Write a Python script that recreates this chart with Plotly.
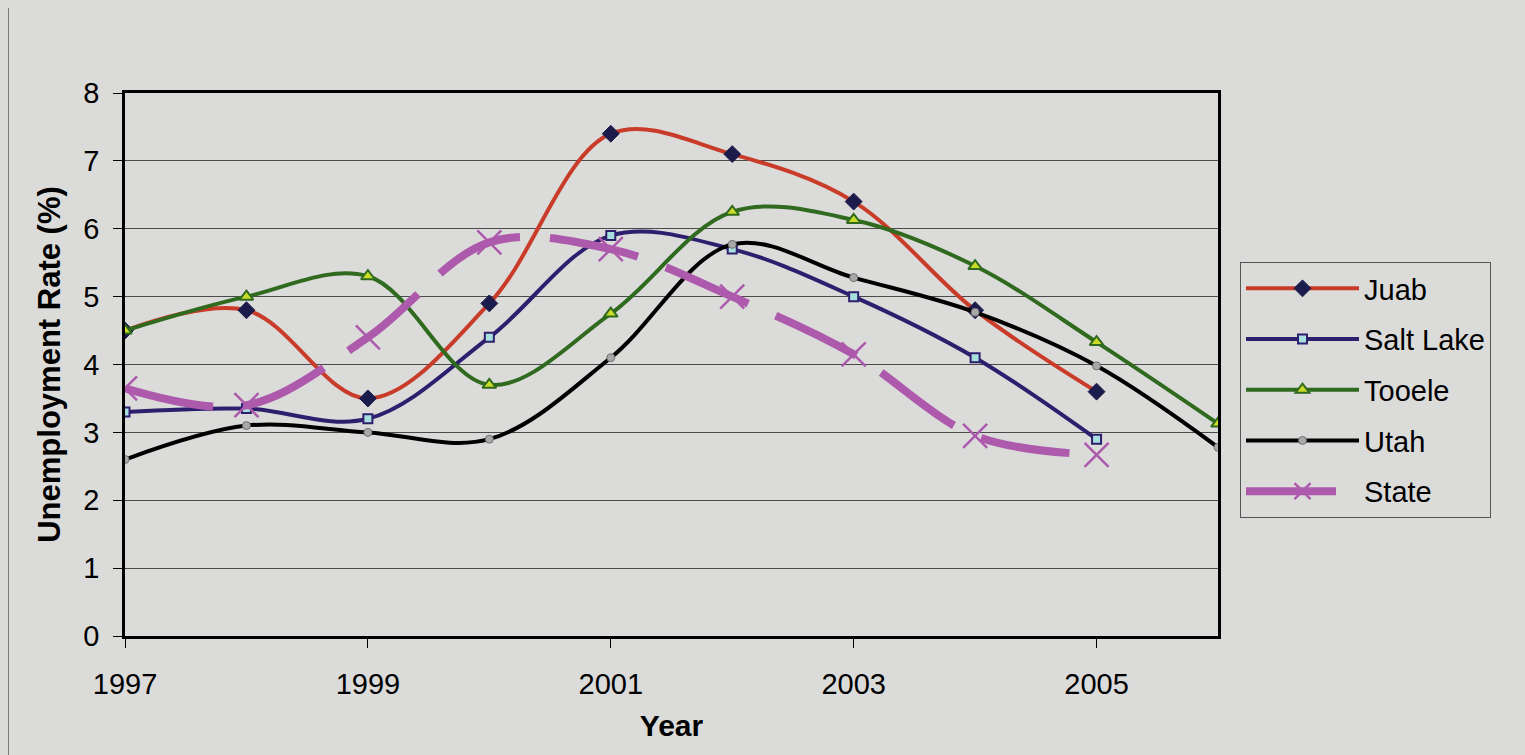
import plotly.graph_objects as go

years = [1997, 1998, 1999, 2000, 2001, 2002, 2003, 2004, 2005, 2006]
juab = [4.5, 4.8, 3.5, 4.9, 7.4, 7.1, 6.4, 4.8, 3.6]
salt_lake = [3.3, 3.35, 3.2, 4.4, 5.9, 5.7, 5.0, 4.1, 2.9]
tooele = [4.5, 5.0, 5.3, 3.7, 4.75, 6.25, 6.13, 5.45, 4.33, 3.13]
utah = [2.6, 3.1, 3.0, 2.9, 4.1, 5.77, 5.28, 4.77, 3.98, 2.78]
state = [3.65, 3.4, 4.4, 5.8, 5.7, 5.0, 4.15, 2.95, 2.67]
x_ticks = [1997, 1999, 2001, 2003, 2005]

BG = "#dbdbd9"
FONT = "Arial, Liberation Sans, sans-serif"

# page is offset by the browser's 8px body margin
OFF = 8
PL, PT, PW, PH = 125 - OFF, 93 - OFF, 1093, 543

fig = go.Figure()

series = [
    ("Juab", juab, dict(color="#c93c2a", width=4, dash="solid"),
     dict(symbol="diamond", size=13, color="#1c1c4c", line=dict(color="#1c1c4c", width=1))),
    ("Salt Lake", salt_lake, dict(color="#2e1f6e", width=4, dash="solid"),
     dict(symbol="square", size=9, color="#a8e0e0", line=dict(color="#2e1f6e", width=2))),
    ("Tooele", tooele, dict(color="#2f6a1f", width=4, dash="solid"),
     dict(symbol="triangle-up", size=12, color="#c8dc28", line=dict(color="#2f6a1f", width=2))),
    ("Utah", utah, dict(color="#000000", width=4, dash="solid"),
     dict(symbol="circle", size=8, color="#a8a8a8", line=dict(color="#707070", width=1))),
    ("State", state, dict(color="#ad5aad", width=8, dash="90px,30px"),
     dict(symbol="x-thin-open", size=24, color="#ad5aad", line=dict(color="#ad5aad", width=2.5))),
]

for i, (name, vals, line, marker) in enumerate(series):
    fig.add_trace(go.Scatter(
        x=years[:len(vals)], y=vals, name=name, mode="lines+markers",
        line=dict(shape="spline", smoothing=1.0, **line),
        marker=marker, legendgroup=f"g{i}",
    ))

fig.update_layout(
    width=1525, height=755,
    margin=dict(l=PL, r=1525 - PL - PW, t=PT, b=755 - PT - PH),
    paper_bgcolor=BG, plot_bgcolor=BG,
    font=dict(family=FONT, color="#000000", size=29),
    showlegend=True,
    legend=dict(
        x=(1240 - 125) / PW, y=(636 - 262) / PH, xanchor="left", yanchor="top",
        bgcolor=BG, bordercolor="#555555", borderwidth=1,
        font=dict(family=FONT, size=29, color="#000000"),
        itemwidth=113, tracegroupgap=10, traceorder="grouped",
    ),
    xaxis=dict(
        range=[1997, 2006], tickvals=x_ticks, ticktext=[str(t) for t in x_ticks],
        ticks="outside", ticklen=9, tickwidth=1, tickcolor="#000000",
        showline=True, linecolor="#000000", linewidth=2.5, mirror=True,
        showgrid=False, zeroline=False,
        tickfont=dict(size=29), ticklabelstandoff=11,
        title=dict(text="<b>Year</b>", font=dict(size=30), standoff=17),
    ),
    yaxis=dict(
        range=[0, 8], dtick=1, tick0=0,
        ticks="outside", ticklen=9, tickwidth=1, tickcolor="#000000",
        showline=True, linecolor="#000000", linewidth=2.5, mirror=True,
        showgrid=True, gridcolor="#4a4a4a", gridwidth=1, zeroline=False,
        tickfont=dict(size=29), ticklabelstandoff=8,
        title=dict(text="<b>Unemployment Rate (%)</b>", font=dict(size=31), standoff=14),
    ),
    shapes=[dict(type="line", xref="paper", yref="paper",
                 x0=(8 - 125) / PW, x1=(8 - 125) / PW,
                 y0=(636 - 760) / PH, y1=(636 - 0) / PH,
                 line=dict(color="#5a5a5a", width=1.5))],
)

fig.write_html("out.html", post_script="document.body.style.background='%s';" % BG)
